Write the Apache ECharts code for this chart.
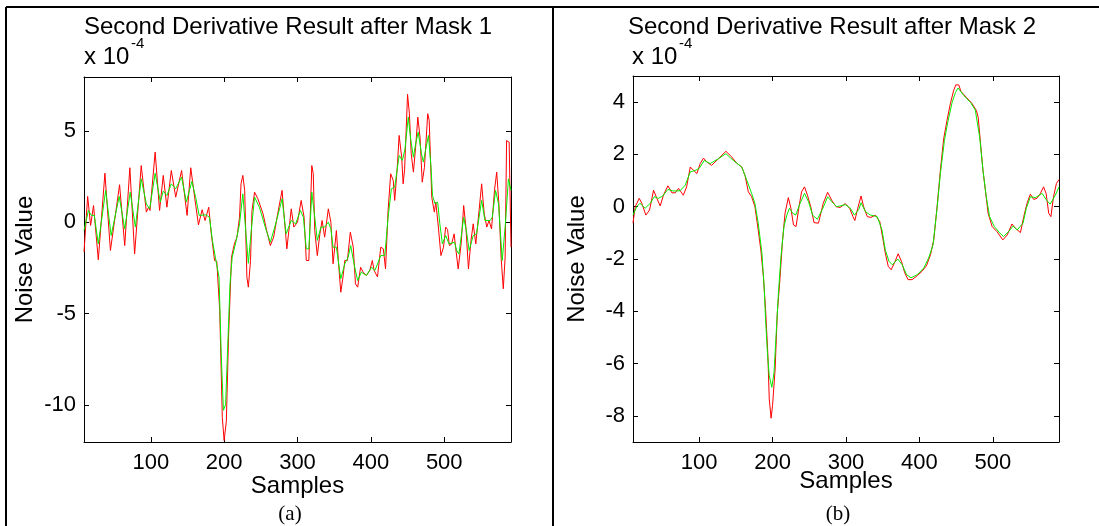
<!DOCTYPE html>
<html>
<head>
<meta charset="utf-8">
<script src="https://cdn.jsdelivr.net/npm/echarts@6/dist/echarts.min.js"></script>
<style>
html,body{margin:0;padding:0;background:#fff;}
#c{width:1099px;height:526px;}
</style>
</head>
<body>
<div id="c"></div>
<script>
// ---- data (sample index, value x 1e-4) ----
const titles = ['Second Derivative Result after Mask 1', 'Second Derivative Result after Mask 2'];
const captions = ['(a)', '(b)'];
const xTicks = [100, 200, 300, 400, 500];
const yTicksA = [-10, -5, 0, 5];
const yTicksB = [-8, -6, -4, -2, 0, 2, 4];

const redA = [[9,-1.64],[14,1.41],[18,-0.18],[22,0.91],[28.5,-2.06],[37.5,2.68],[45,-1.55],[57.5,2.05],[64.5,-1.28],[71.5,2.98],
[78,-1.74],[87,3.1],[94,0.55],[97,0.82],[99,0.64],[106,3.84],[112,0.64],[117,2.56],[122,0.82],[128,2.83],
[134,1.37],[142,2.83],[149.5,0.37],[154.5,2.98],[160,1.3],[165,-0.15],[170,0.68],[174,0.09],[179,0.82],[182.5,-0.64],
[187,-2.1],[190,-2.14],[194,-4.84],[197.5,-10.7],[200,-11.96],[203,-10.9],[206,-6.3],[210,-1.92],[214,-1.19],[217.5,-0.82],
[221,0.27],[223,2.1],[225.5,2.56],[228,1.74],[231,-3.0],[233,-3.56],[236,-2.1],[238,0.64],[241.5,1.64],[246,1.28],
[253,0.46],[258,-0.46],[263,-1.28],[267.5,-0.82],[273,0.46],[279,1.74],[281.5,0.46],[285.5,-1.46],[291.5,0.73],[295,-0.27],
[300,0],[305,1.19],[309,0.27],[312,-2.1],[315.5,-2.1],[319.5,3.1],[321.5,2.65],[323.5,-0.46],[327,-1.83],[330.5,-0.64],
[333.5,0.09],[337,-0.82],[342,0.73],[345.5,0],[348.5,-2.28],[353,-0.46],[356,-2.28],[359,-3.84],[362,-3.0],[364.5,-2.1],
[368,-2.1],[372,-0.55],[376,-1.37],[379,-3.38],[382,-3.56],[386,-2.47],[389.5,-2.74],[394,-2.92],[398.5,-2.65],[402,-2.1],
[404.5,-2.65],[409,-3.0],[413.5,-1.37],[417,-1.46],[420,-2.56],[423.5,0.64],[427,2.65],[430.5,2.28],[432.5,1.19],[436,3.0],
[438.5,4.75],[442,3.56],[444,2.1],[446,2.9],[450,7.0],[452.5,5.94],[455,3.74],[458,2.74],[461,4.1],[464,5.75],
[467,4.66],[470,2.19],[473,3.0],[477.5,5.94],[479.5,5.57],[483,1.37],[486.5,0.55],[488.5,1.1],[490.5,1.19],[492,-0.27],
[495.5,-1.83],[499,-1.37],[502,-0.27],[504.5,-0.4],[507,-1.28],[510,-1.2],[513.5,-0.64],[515.5,-1.37],[519,-2.56],[523,-1.19],
[526.5,0.91],[529.5,-0.27],[533,-2.56],[536.5,-1.0],[539.5,-0.09],[543,-1.19],[547.5,0.64],[551,2.1],[554.5,0.46],[558,-0.27],
[561,0.09],[564.5,-0.37],[568.5,1.74],[571.5,2.74],[574.5,1.0],[577.5,-1.92],[580.5,-3.65],[583,-1.92],[585,4.47],[588.5,4.38],
[591,-1.37]];

const greenA = [[9,-0.46],[15,0.64],[19,0.37],[23,0.37],[28.5,-1.19],[38.5,1.74],[46,-0.73],[57,1.41],[64.5,-0.37],[72,1.64],
[79,-0.27],[87,2.37],[94,1.0],[98.5,0.73],[106,2.68],[113,1.1],[117,1.7],[122,1.46],[128,2.1],[134,1.83],
[142,2.47],[148.5,1.1],[156,2.23],[161,1.4],[166,0.37],[175,0.4],[180,0.27],[184,-1.0],[188,-1.92],[193,-3.0],
[196,-7.2],[199,-10.3],[202,-10.0],[205,-6.67],[208,-3.38],[211,-1.92],[216.5,-1.0],[221,-0.09],[225.5,1.55],[229,-0.27],
[233,-2.25],[237,-0.46],[241.5,1.37],[248,0.82],[257.5,-0.46],[263,-1.1],[269,-0.27],[275,0.64],[279,1.28],[284.5,-0.64],
[291.5,0.09],[297.5,-0.09],[304,0.64],[308,0.27],[312,-1.46],[315.5,-1.46],[319.5,1.64],[323.5,0.27],[327,-1.0],[332,-0.27],
[337,-0.27],[342,0],[345.5,-0.37],[348.5,-1.37],[353,-1.37],[359,-3.1],[364.5,-2.28],[369,-1.92],[372.5,-1.28],[377,-2.28],
[382,-3.2],[387,-2.74],[394,-2.92],[401,-2.47],[405.5,-2.65],[413.5,-1.83],[419,-1.83],[423.5,0.27],[428,1.83],[432.5,1.92],
[438.5,3.65],[443,3.38],[446.5,4.0],[451,5.75],[454.5,4.47],[458,3.56],[461,4.29],[464.5,4.93],[469,3.74],[471.5,3.29],
[474.5,3.93],[478.5,4.75],[482,3.0],[484,1.46],[487.5,1.0],[491,1.1],[494,-0.09],[497.5,-1.19],[502,-0.73],[506.5,-1.19],
[514,-1.1],[517,-1.55],[520,-1.74],[523,-0.82],[526.5,0.27],[530.5,-0.55],[534,-1.55],[539.5,-0.73],[544,-0.64],[551,1.19],
[555.5,0.09],[562.5,0.09],[565.5,0.27],[570,1.74],[574,1.0],[579,-2.1],[583,-0.27],[587.5,2.37],[591,1.74]];

const redB = [[10,-0.63],[13,0],[18.5,0.32],[22,0.13],[27.5,-0.32],[32.5,-0.13],[38,0.63],[42.5,0.32],[47,0.03],[51.5,0.44],
[57.5,0.8],[63,0.53],[67.5,0.53],[72,0.7],[78.5,0.44],[83,0.76],[88,1.52],[92.5,1.39],[97,1.27],[101.5,1.65],
[106,1.86],[110.5,1.71],[117,1.58],[126.5,1.84],[136.5,2.12],[144.5,1.9],[151,1.67],[158,1.52],[162.5,1.2],[167,0.57],
[171.5,0.38],[176,0],[180.5,-0.89],[184,-1.65],[187.5,-2.66],[190.5,-3.93],[193.5,-5.58],[195.5,-7.35],[198,-8.09],[200,-7.6],
[203.5,-6.21],[206.5,-4.06],[210,-2.79],[213.5,-1.33],[217,-0.25],[221.5,0.35],[225,-0.06],[228.5,-0.7],[232,-0.76],[236,0],
[239.5,0.57],[243.5,0.76],[247.5,0.44],[252,0],[256.5,-0.61],[262.5,-0.63],[269,0.13],[275,0.55],[280.5,0.25],[286.5,0],
[292,-0.03],[299,0.12],[305,-0.06],[309.5,-0.38],[312,-0.53],[316,-0.06],[320.5,0.41],[324,0],[329,-0.38],[334,-0.41],
[340,-0.32],[346,-0.57],[350.5,-1.27],[353.5,-1.77],[357.5,-2.28],[361.5,-2.41],[366,-2.15],[371,-1.8],[375.5,-2.09],[380,-2.53],
[384.5,-2.79],[390,-2.79],[397,-2.64],[403.5,-2.47],[409.5,-2.26],[415,-1.84],[419.5,-1.27],[424,0],[428.5,1.39],[433,2.6],
[437.5,3.3],[442,3.93],[446.5,4.44],[449.5,4.66],[453.5,4.66],[456.5,4.41],[464,4.18],[471.5,3.95],[477.5,3.68],[480,3.42],
[483,2.47],[486.5,1.39],[490,0.57],[493.5,-0.25],[499,-0.76],[505.5,-0.95],[513.5,-1.27],[519.5,-1.08],[526,-0.66],[530.5,-0.82],
[537.5,-0.99],[542,-0.38],[546.5,0.13],[551,0.48],[555.5,0.28],[560,0.32],[564.5,0.5],[569,0.76],[572.5,0.5],[576,-0.25],
[579,-0.38],[582.5,0.38],[586.5,0.89],[590,1.04]];

const greenB = [[10,-0.32],[15,0],[19.5,0.13],[26.5,-0.06],[33.5,0.13],[39,0.38],[44.5,0.32],[50.5,0.41],[57.5,0.66],[65,0.6],
[74,0.61],[81,0.82],[88,1.33],[94.5,1.39],[100,1.46],[107,1.77],[115,1.65],[126.5,1.84],[136.5,2.03],[146.5,1.77],
[158,1.52],[165,1.01],[171.5,0.51],[176,0.13],[180.5,-0.63],[185.5,-1.77],[188.5,-3.04],[190.5,-4.31],[193,-5.58],[195.5,-6.46],
[199,-6.91],[202,-6.34],[205,-4.82],[208,-3.3],[211.5,-1.9],[215.5,-0.76],[219.5,-0.32],[223,-0.06],[227.5,-0.25],[231.5,-0.32],
[237.5,0.13],[243.5,0.51],[249,0.19],[254.5,-0.32],[261,-0.48],[268.5,-0.06],[275,0.38],[282,0.15],[287.5,0],[299,0.08],
[306,-0.06],[311.5,-0.32],[317.5,-0.1],[320.5,0.15],[326.5,-0.19],[333.5,-0.32],[342.5,-0.38],[349,-0.89],[353.5,-1.65],[358.5,-2.09],
[363,-2.22],[370.5,-2.0],[376.5,-2.22],[382.5,-2.6],[388.5,-2.72],[397,-2.6],[406,-2.34],[412.5,-1.96],[418.5,-1.46],[424,-0.06],
[428.5,1.27],[434,2.53],[438.5,3.23],[444.5,3.99],[449,4.37],[452.5,4.54],[460.5,4.25],[469.5,3.99],[476,3.7],[482,2.66],
[486.5,1.39],[491,0.38],[495.5,-0.38],[502,-0.76],[509.5,-1.01],[514.5,-1.14],[521.5,-0.95],[527.5,-0.74],[533,-0.89],[541,-0.63],
[545.5,-0.06],[551,0.38],[558,0.35],[567,0.51],[573,0.25],[578,0.1],[585,0.44],[590,0.76]];

// ---- chart ----
const FONT = '"Liberation Sans", Arial, Helvetica, sans-serif';
const chart = echarts.init(document.getElementById('c'), null, {renderer: 'canvas'});

function xAxes(gi, min, max) {
  const base = {gridIndex: gi, type: 'value', min: min, max: max, splitLine: {show: false},
    axisLine: {show: true, onZero: false, lineStyle: {color: '#000', width: 1}}};
  return [
    Object.assign({}, base, {position: 'bottom',
      axisTick: {show: true, inside: true, length: 5, customValues: xTicks, lineStyle: {color: '#000'}},
      axisLabel: {show: true, customValues: xTicks, fontSize: 22, fontFamily: FONT, color: '#000', margin: 10},
      name: 'Samples', nameLocation: 'middle', nameGap: gi === 0 ? 32 : 27, nameMoveOverlap: false,
      nameTextStyle: {fontSize: 24, fontFamily: FONT, color: '#000'}}),
    Object.assign({}, base, {position: 'top',
      axisTick: {show: true, inside: true, length: 5, customValues: xTicks, lineStyle: {color: '#000'}},
      axisLabel: {show: false}})
  ];
}
function yAxes(gi, min, max, ticks) {
  const base = {gridIndex: gi, type: 'value', min: min, max: max, splitLine: {show: false},
    axisLine: {show: true, onZero: false, lineStyle: {color: '#000', width: 1}}};
  return [
    Object.assign({}, base, {position: 'left',
      axisTick: {show: true, inside: true, length: 5, customValues: ticks, lineStyle: {color: '#000'}},
      axisLabel: {show: true, customValues: ticks, fontSize: 22, fontFamily: FONT, color: '#000', margin: 8},
      name: 'Noise Value', nameLocation: 'middle', nameGap: gi === 0 ? 47 : 44, nameMoveOverlap: false,
      nameTextStyle: {fontSize: 24, fontFamily: FONT, color: '#000'}}),
    Object.assign({}, base, {position: 'right',
      axisTick: {show: true, inside: true, length: 5, customValues: ticks, lineStyle: {color: '#000'}},
      axisLabel: {show: false}})
  ];
}

function lineSeries(data, xi, yi, color, z) {
  return {type: 'line', data: data, xAxisIndex: xi, yAxisIndex: yi, showSymbol: false, symbol: 'none',
    lineStyle: {color: color, width: 1}, z: z, silent: true, clip: true};
}

function txt(x, y, text, size, family, align) {
  return {type: 'text', x: x, y: y, silent: true,
    style: {text: text, fontSize: size, fontFamily: family, fill: '#000', align: align || 'center', verticalAlign: 'middle'}};
}
function ln(x1, y1, x2, y2) {
  return {type: 'line', silent: true, shape: {x1: x1, y1: y1, x2: x2, y2: y2}, style: {stroke: '#000', lineWidth: 2}};
}

const option = {
  animation: false,
  backgroundColor: '#fff',
  grid: [
    {left: 84, top: 77, width: 427, height: 365},
    {left: 633, top: 76, width: 426, height: 366}
  ],
  xAxis: xAxes(0, 9, 591).concat(xAxes(1, 10, 590)),
  yAxis: yAxes(0, -12.04, 7.95, yTicksA).concat(yAxes(1, -9, 5, yTicksB)),
  series: [
    lineSeries(redA, 0, 0, '#ff0000', 2),
    lineSeries(greenA, 0, 0, '#00ee00', 3),
    lineSeries(redB, 2, 2, '#ff0000', 2),
    lineSeries(greenB, 2, 2, '#00ee00', 3)
  ],
  graphic: [
    ln(6, 7, 1099, 7), ln(6, 7, 6, 526), ln(553, 7, 553, 526),
    txt(288, 27, titles[0], 24, FONT),
    txt(832, 27, titles[1], 24, FONT),
    txt(84, 57, 'x 10', 24, FONT, 'left'),
    txt(131, 44, '-4', 15, FONT, 'left'),
    txt(632, 57, 'x 10', 24, FONT, 'left'),
    txt(679, 44, '-4', 15, FONT, 'left'),
    txt(290, 514, captions[0], 21, '"Liberation Serif", "Times New Roman", serif'),
    txt(838, 514, captions[1], 21, '"Liberation Serif", "Times New Roman", serif')
  ]
};
chart.setOption(option);
</script>
</body>
</html>
